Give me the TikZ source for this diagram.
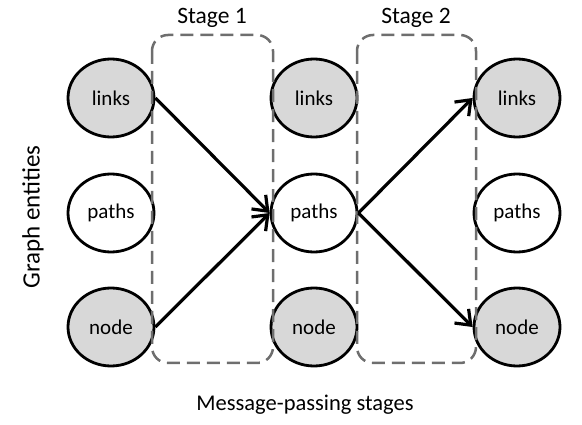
\documentclass[tikz,border=0pt]{standalone}
\usepackage{fontspec}
\setmainfont{Carlito}
\usetikzlibrary{shapes.geometric,arrows.meta}
\definecolor{entfill}{RGB}{216,216,216}
\definecolor{boxgray}{RGB}{110,110,110}
\tikzset{
  ent/.style={ellipse, draw=black, line width=2.8pt, minimum width=86pt, minimum height=78pt, inner sep=0pt, font=\fontsize{21}{24}\selectfont},
  shaded/.style={ent, fill=entfill},
  plain/.style={ent, fill=white},
  stagebox/.style={draw=boxgray, line width=2.5pt, dash pattern=on 13pt off 7pt, rounded corners=16pt},
  msg/.style={line width=3.2pt, -{Straight Barb[length=13pt, width=20pt, line width=3.2pt]}},
  stagelbl/.style={font=\fontsize{23.5}{26}\selectfont},
  axlbl/.style={font=\fontsize{22.5}{26}\selectfont}
}
\begin{document}
\begin{tikzpicture}[x=1pt,y=-1pt]
\useasboundingbox (0,0) rectangle (582,425);
% entities
\node[shaded] (l1) at (111,98) {links};
\node[plain]  (p1) at (111,213) {paths};
\node[shaded] (n1) at (111,327) {node};
\node[shaded] (l2) at (314,98) {links};
\node[plain]  (p2) at (314,213) {paths};
\node[shaded] (n2) at (314,327) {node};
\node[shaded] (l3) at (517,98) {links};
\node[plain]  (p3) at (517,213) {paths};
\node[shaded] (n3) at (517,327) {node};
% stage boxes
\draw[stagebox] (152,35) rectangle (273,363);
\draw[stagebox] (357,35) rectangle (476,363);
\node[stagelbl] (s1) at (212,18) {Stage 1};
\node[stagelbl] (s2) at (416,18) {Stage 2};
% arrows
\draw[msg] (l1.east) -- (p2.west);
\draw[msg] (n1.east) -- (p2.west);
\draw[msg] (p2.east) -- (l3.west);
\draw[msg] (p2.east) -- (n3.west);
% axis labels
\node[axlbl, rotate=90, font=\fontsize{25}{28}\selectfont] (ge) at (33,217) {Graph entities};
\node[axlbl] (mp) at (305,405) {Message-passing stages};
\end{tikzpicture}
\end{document}
